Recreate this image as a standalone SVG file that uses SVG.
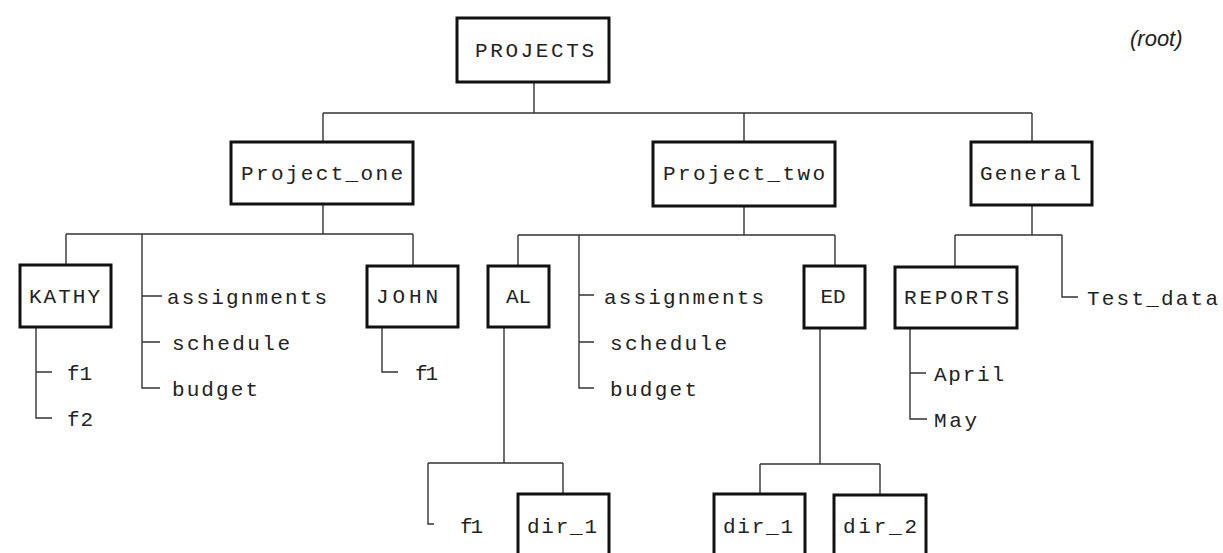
<svg xmlns="http://www.w3.org/2000/svg" width="1223" height="553" viewBox="0 0 1223 553">
<style>
.box{fill:#fff;stroke:#111;stroke-width:3}
.lbl{font-family:"Liberation Mono","DejaVu Sans Mono",monospace;font-size:21px;fill:#222}
.mid{text-anchor:middle}
.ln{fill:none;stroke:#333;stroke-width:1.4}
.note{font-family:"Liberation Sans",Arial,sans-serif;font-size:22px;font-style:italic;fill:#222}
</style>
<rect width="1223" height="553" fill="#fff"/>
<g id="connectors" class="ln">
<path d="M534,82V113M323,113H1032M323,113V142M744,113V142M1032,113V142"/>
<path d="M323,204V234M66,234H413M66,234V265M413,234V266M142,234V388H160M142,296H162M142,342H160"/>
<path d="M36,327V418H52M36,372H52"/>
<path d="M382,327V372H398"/>
<path d="M744,206V235M518,235H835M518,235V266M835,235V266M579,235V388H594M579,295H594M579,342H594"/>
<path d="M504,327V463M428,463H563M428,463V524H434M563,463V494"/>
<path d="M820,328V464M760,464H880M760,464V494M880,464V495"/>
<path d="M1032,205V235M955,235H1062M955,235V267M1062,235V297H1078"/>
<path d="M910,328V419H927M910,373H926"/>
</g>
<g id="projects"><rect class="box" x="457" y="18" width="152" height="64"/><text class="lbl" x="475" y="57" textLength="119" lengthAdjust="spacing">PROJECTS</text></g>
<g id="project_one"><rect class="box" x="231" y="142" width="182" height="62"/><text class="lbl" x="241" y="180" textLength="162" lengthAdjust="spacing">Project_one</text></g>
<g id="project_two"><rect class="box" x="653" y="142" width="182" height="64"/><text class="lbl" x="663" y="180" textLength="162" lengthAdjust="spacing">Project_two</text></g>
<g id="general"><rect class="box" x="971" y="142" width="121" height="63"/><text class="lbl" x="980" y="180" textLength="101" lengthAdjust="spacing">General</text></g>
<g id="kathy"><rect class="box" x="20" y="265" width="91" height="62"/><text class="lbl" x="29" y="303" textLength="71" lengthAdjust="spacing">KATHY</text></g>
<g id="john"><rect class="box" x="367" y="266" width="91" height="61"/><text class="lbl" x="376" y="303" textLength="62" lengthAdjust="spacing">JOHN</text></g>
<g id="al"><rect class="box" x="488" y="266" width="61" height="61"/><text class="lbl mid" x="518.5" y="303">AL</text></g>
<g id="ed"><rect class="box" x="804" y="266" width="61" height="62"/><text class="lbl mid" x="833" y="303">ED</text></g>
<g id="reports"><rect class="box" x="895" y="267" width="122" height="61"/><text class="lbl" x="904" y="304" textLength="105" lengthAdjust="spacing">REPORTS</text></g>
<g id="al_dir_1"><rect class="box" x="518" y="494" width="91" height="70"/><text class="lbl" x="527" y="533" textLength="70" lengthAdjust="spacing">dir_1</text></g>
<g id="ed_dir_1"><rect class="box" x="714" y="494" width="91" height="70"/><text class="lbl" x="723" y="533" textLength="70" lengthAdjust="spacing">dir_1</text></g>
<g id="ed_dir_2"><rect class="box" x="834" y="495" width="92" height="70"/><text class="lbl" x="843" y="533" textLength="74" lengthAdjust="spacing">dir_2</text></g>
<g id="p1_files">
<text class="lbl" x="167" y="304" textLength="160" lengthAdjust="spacing">assignments</text>
<text class="lbl" x="172" y="350" textLength="118" lengthAdjust="spacing">schedule</text>
<text class="lbl" x="172" y="396" textLength="86" lengthAdjust="spacing">budget</text>
</g>
<g id="kathy_files">
<text class="lbl" x="67" y="380" textLength="25" lengthAdjust="spacing">f1</text>
<text class="lbl" x="67" y="426" textLength="26" lengthAdjust="spacing">f2</text>
</g>
<g id="john_files"><text class="lbl" x="415" y="380" textLength="23" lengthAdjust="spacing">f1</text></g>
<g id="p2_files">
<text class="lbl" x="604" y="304" textLength="160" lengthAdjust="spacing">assignments</text>
<text class="lbl" x="610" y="350" textLength="117" lengthAdjust="spacing">schedule</text>
<text class="lbl" x="610" y="396" textLength="87" lengthAdjust="spacing">budget</text>
</g>
<g id="al_files"><text class="lbl" x="460" y="533" textLength="23" lengthAdjust="spacing">f1</text></g>
<g id="test_data"><text class="lbl" x="1087" y="305" textLength="131" lengthAdjust="spacing">Test_data</text></g>
<g id="reports_files">
<text class="lbl" x="934" y="381" textLength="70" lengthAdjust="spacing">April</text>
<text class="lbl" x="934" y="427" textLength="43" lengthAdjust="spacing">May</text>
</g>
<g id="root_note"><text class="note" x="1130" y="46">(root)</text></g>
</svg>
